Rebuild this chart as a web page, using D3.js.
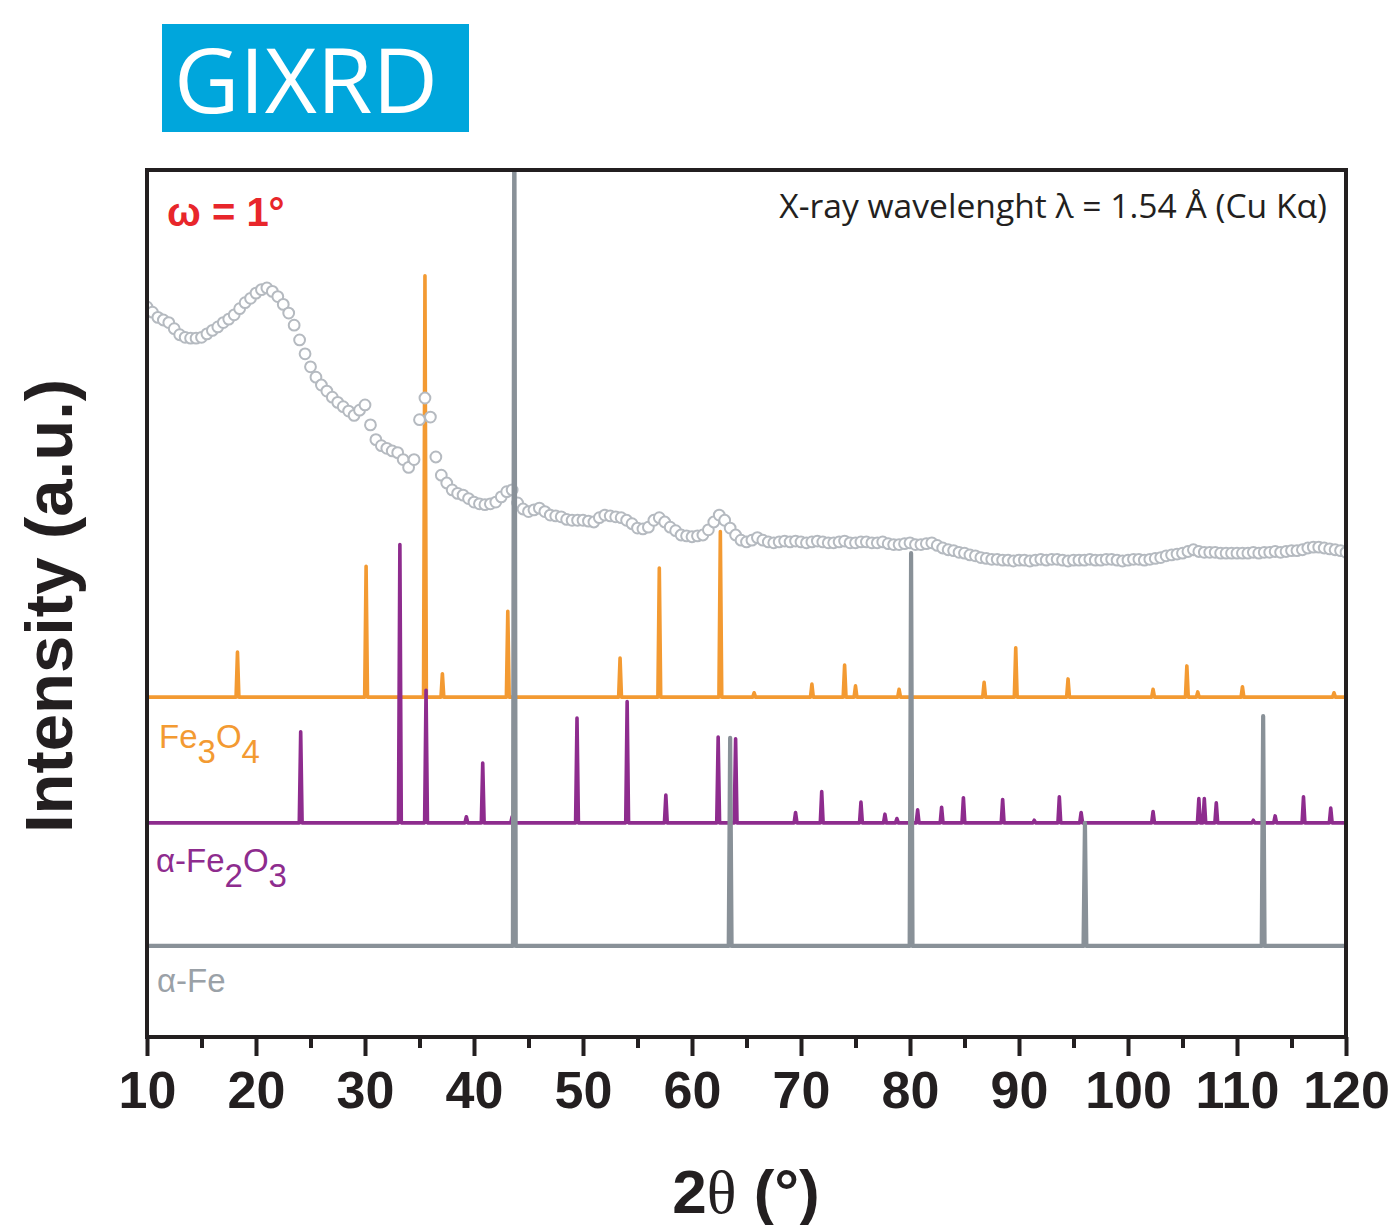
<!DOCTYPE html>
<html>
<head>
<meta charset="utf-8">
<script src="https://cdn.jsdelivr.net/npm/d3@7"></script>
<style>
  body { margin: 0; background: #fff; }
  text { font-family: "Liberation Sans", Arial, sans-serif; }
</style>
</head>
<body>
<svg id="chart" width="1399" height="1225"></svg>
<script>
// measured GIXRD scan, 10..120 deg in 0.5 deg steps (intensity, a.u., already offset)
var scanStart = 10, scanStep = 0.5;
var scanI = [
  84.2, 83.6, 83.0, 82.7, 82.4, 81.7, 81.0, 80.7, 80.6, 80.6,
  80.7, 81.1, 81.5, 81.9, 82.4, 82.8, 83.3, 84.0, 84.7, 85.2,
  85.8, 86.2, 86.4, 86.0, 85.4, 84.5, 83.5, 82.1, 80.4, 78.8,
  77.3, 76.1, 75.2, 74.5, 73.8, 73.2, 72.7, 72.2, 71.7, 72.3,
  72.9, 70.6, 68.9, 68.2, 67.9, 67.6, 67.4, 66.6, 65.7, 66.6,
  71.2, 73.7, 71.5, 66.9, 64.8, 63.9, 63.1, 62.7, 62.5, 62.1,
  61.7, 61.5, 61.4, 61.5, 61.7, 62.3, 62.9, 63.1, 61.6, 60.9,
  60.6, 60.8, 61.0, 60.6, 60.2, 60.1, 60.0, 59.7, 59.6, 59.6,
  59.6, 59.5, 59.4, 59.9, 60.2, 60.1, 60.0, 59.9, 59.6, 59.2,
  58.7, 58.6, 58.8, 59.6, 59.9, 59.4, 58.8, 58.4, 57.9, 57.8,
  57.7, 57.8, 57.9, 58.5, 59.4, 60.2, 59.6, 58.7, 57.9, 57.3,
  57.1, 57.3, 57.6, 57.3, 57.1, 57.0, 57.1, 57.2, 57.1, 57.2,
  57.1, 57.0, 57.1, 57.2, 57.1, 57.0, 57.0, 57.1, 57.2, 57.0,
  57.0, 57.1, 57.1, 57.0, 57.0, 57.1, 56.9, 56.8, 56.8, 56.9,
  57.0, 56.8, 56.8, 56.9, 57.0, 56.7, 56.4, 56.2, 56.1, 55.9,
  55.8, 55.6, 55.5, 55.3, 55.2, 55.1, 55.1, 55.0, 55.0, 54.9,
  55.0, 55.0, 54.9, 55.0, 55.1, 55.0, 55.1, 55.1, 55.0, 54.9,
  55.0, 55.0, 55.0, 55.1, 55.0, 55.0, 55.1, 55.1, 55.0, 54.9,
  55.0, 55.1, 55.1, 55.0, 55.1, 55.2, 55.3, 55.5, 55.6, 55.7,
  55.8, 56.0, 56.2, 56.0, 55.9, 55.9, 55.9, 55.8, 55.8, 55.8,
  55.8, 55.8, 55.8, 55.9, 55.8, 55.9, 55.9, 56.0, 55.9, 56.0,
  56.1, 56.1, 56.2, 56.4, 56.5, 56.5, 56.4, 56.3, 56.2, 56.1,
  55.9
];

// reference patterns: peak positions (2theta) and heights above their own baseline
var fe3o4Base = 39.2;
var fe3o4Pos = [18.3, 30.1, 35.5, 37.1, 43.1, 53.4, 57.0, 62.6, 65.7, 71.0, 74.0, 75.0, 79.0,
                86.8, 89.7, 94.5, 102.3, 105.4, 106.4, 110.5, 118.9];
var fe3o4Int = [5.2, 15.1, 48.6, 2.7, 9.9, 4.5, 14.9, 19.1, 0.5, 1.5, 3.7, 1.3, 0.9,
                1.7, 5.7, 2.1, 0.9, 3.6, 0.6, 1.2, 0.5];

var fe2o3Base = 24.7;
var fe2o3Pos = [24.1, 33.2, 35.6, 39.3, 40.8, 43.5, 49.45, 54.05, 57.6, 62.4, 64.0, 69.5, 71.9,
                75.5, 77.7, 78.8, 80.7, 82.9, 84.9, 88.5, 91.4, 93.7, 95.7, 102.3, 106.5, 107.0,
                108.1, 111.5, 113.5, 116.1, 118.6];
var fe2o3Int = [10.5, 32.1, 15.3, 0.7, 6.9, 0.7, 12.1, 14.0, 3.2, 9.9, 9.7, 1.2, 3.6,
                2.4, 1.0, 0.5, 1.5, 1.8, 2.9, 2.7, 0.3, 3.0, 1.2, 1.3, 2.8, 2.8,
                2.3, 0.3, 0.8, 3.0, 1.7];

var feBase = 10.5;
var fePos = [43.7, 63.5, 80.1, 96.05, 112.4];
var feInt = [100, 24.0, 45.3, 14.2, 26.5];

var xTicks = [10, 20, 30, 40, 50, 60, 70, 80, 90, 100, 110, 120];
var xMinor = [15, 25, 35, 45, 55, 65, 75, 85, 95, 105, 115];

var svg = d3.select("#chart"),
    MARGINS = { top: 170, right: 53, bottom: 188, left: 147 },
    WIDTH = 1399, HEIGHT = 1225,
    x = d3.scaleLinear().domain([10, 120]).range([MARGINS.left, WIDTH - MARGINS.right]),
    y = d3.scaleLinear().domain([0, 100]).range([HEIGHT - MARGINS.bottom, MARGINS.top]);

svg.append("clipPath").attr("id", "plotclip")
  .append("rect")
    .attr("x", x(10)).attr("y", y(100))
    .attr("width", x(120) - x(10)).attr("height", y(0) - y(100));

// stick list -> narrow peak outline sitting on its baseline
function peakPoints(pos, inten, base) {
  var hw = 0.13, pts = [[10, base]];
  pos.forEach(function(p, i) {
    pts.push([p - hw, base], [p, base + inten[i]], [p + hw, base]);
  });
  pts.push([120, base]);
  pts.sort(function(a, b) { return a[0] - b[0]; });
  return pts;
}

var line = d3.line()
  .x(function(d) { return x(d[0]); })
  .y(function(d) { return y(d[1]); });

var plot = svg.append("g").attr("clip-path", "url(#plotclip)");

plot.append("path")
  .attr("d", line(peakPoints(fe3o4Pos, fe3o4Int, fe3o4Base)))
  .attr("fill", "none").attr("stroke", "#f39a32")
  .attr("stroke-width", 3.6).attr("stroke-linejoin", "round");

plot.append("path")
  .attr("d", line(peakPoints(fe2o3Pos, fe2o3Int, fe2o3Base)))
  .attr("fill", "none").attr("stroke", "#8e2c8e")
  .attr("stroke-width", 3.6).attr("stroke-linejoin", "round");

plot.selectAll("circle.scan")
  .data(scanI)
  .enter().append("circle")
    .attr("class", "scan")
    .attr("cx", function(d, i) { return x(scanStart + i * scanStep); })
    .attr("cy", function(d) { return y(d); })
    .attr("r", 5.4)
    .attr("fill", "#fff")
    .attr("stroke", "#b5bac0")
    .attr("stroke-width", 2);

plot.append("path")
  .attr("d", line(peakPoints(fePos, feInt, feBase)))
  .attr("fill", "none").attr("stroke", "#899198")
  .attr("stroke-width", 4.2).attr("stroke-linejoin", "round");

// frame
svg.append("rect")
  .attr("x", x(10)).attr("y", y(100))
  .attr("width", x(120) - x(10)).attr("height", y(0) - y(100))
  .attr("fill", "none").attr("stroke", "#231f20").attr("stroke-width", 4);

// x axis
var xAxis = d3.axisBottom(x).tickValues(xTicks).tickSize(19).tickPadding(15)
  .tickFormat(d3.format("d"));
var gx = svg.append("g")
  .attr("transform", "translate(0," + y(0) + ")")
  .call(xAxis);
gx.select(".domain").remove();
gx.selectAll(".tick line").attr("stroke", "#231f20").attr("stroke-width", 4);
gx.selectAll(".tick text")
  .attr("fill", "#231f20")
  .style("font-family", "'Liberation Sans', Arial, sans-serif")
  .style("font-weight", "bold")
  .style("font-size", "52px");

var gm = svg.append("g")
  .attr("transform", "translate(0," + y(0) + ")")
  .call(d3.axisBottom(x).tickValues(xMinor).tickSize(11).tickFormat(""));
gm.select(".domain").remove();
gm.selectAll(".tick line").attr("stroke", "#231f20").attr("stroke-width", 4);

// axis titles
var xt = svg.append("text")
  .attr("x", 746).attr("y", 1213)
  .attr("text-anchor", "middle")
  .attr("fill", "#231f20")
  .style("font-size", "62px").style("font-weight", "bold");
xt.append("tspan").text("2");
xt.append("tspan").style("font-family", "'Liberation Serif', serif").style("font-weight", "normal").text("θ");
xt.append("tspan").text(" (°)");

svg.append("text")
  .attr("transform", "translate(72,606) rotate(-90)")
  .attr("text-anchor", "middle")
  .attr("fill", "#231f20")
  .style("font-size", "67px").style("font-weight", "bold")
  .text("Intensity (a.u.)");

// GIXRD badge
svg.append("rect")
  .attr("x", 162).attr("y", 24).attr("width", 307).attr("height", 108)
  .attr("fill", "#00a6dc");
var badge = svg.append("text")
  .attr("x", 174).attr("y", 113)
  .attr("fill", "#fff")
  .style("font-family", "'Open Sans', sans-serif")
  .style("font-size", "88px")
  .text("GIXRD");
badge.style("font-size", (88 * 264 / badge.node().getComputedTextLength()) + "px");

// annotations
svg.append("text")
  .attr("x", 167).attr("y", 226)
  .attr("fill", "#e8262b")
  .style("font-size", "40px").style("font-weight", "bold")
  .text("ω = 1°");

var wl = svg.append("text")
  .attr("x", 1327).attr("y", 218)
  .attr("text-anchor", "end")
  .attr("fill", "#231f20")
  .style("font-family", "'Open Sans', sans-serif")
  .style("font-size", "31px")
  .text("X-ray wavelenght λ = 1.54 Å (Cu Kα)");
wl.style("font-size", (31 * 548 / wl.node().getComputedTextLength()) + "px");

// phase labels
function phaseLabel(xp, yp, color, parts) {
  var t = svg.append("text").attr("x", xp).attr("y", yp)
    .attr("fill", color).style("font-size", "33px");
  parts.forEach(function(p) {
    t.append("tspan").attr("dy", p[1]).text(p[0]);
  });
}
phaseLabel(159, 748, "#f39a32", [["Fe", 0], ["3", 15], ["O", -15], ["4", 15]]);
phaseLabel(156, 872, "#8e2c8e", [["α-Fe", 0], ["2", 15], ["O", -15], ["3", 15]]);
phaseLabel(157, 992, "#9aa1a7", [["α-Fe", 0]]);
</script>
</body>
</html>
